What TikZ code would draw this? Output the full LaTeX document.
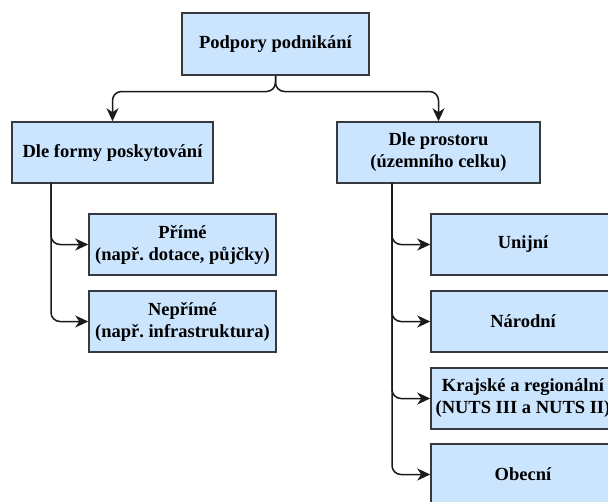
\documentclass[tikz,border=0pt]{standalone}
\usepackage{fontspec}
\setmainfont{Liberation Serif}
\usetikzlibrary{arrows.meta}
\definecolor{boxfill}{HTML}{CCE5FF}
\definecolor{boxline}{HTML}{36393D}
\definecolor{conncol}{HTML}{1A1A1A}
\frenchspacing
\tikzset{
  boxnode/.style={draw=boxline, fill=boxfill, line width=1.5pt, inner sep=2pt,
    align=center, font=\fontsize{18.5}{22}\selectfont\bfseries, text=black},
  conn/.style={draw=conncol, line width=1.5pt, rounded corners=9pt,
    -{Stealth[length=13pt,width=12pt,inset=4pt]}},
}
\begin{document}
\begin{tikzpicture}[x=1pt,y=-1pt]
\useasboundingbox (0,0) rectangle (608,501);
\clip (0,0) rectangle (608,501);
\node[boxnode, minimum width=187pt, minimum height=62pt] (top) at (275.5,44) {Podpory podnikání};
\node[boxnode, minimum width=201pt, minimum height=61pt] (forma) at (112.5,152.5) {Dle formy poskytování};
\node[boxnode, minimum width=203pt, minimum height=61pt] (prostor) at (438.5,152.5) {Dle prostoru\\(územního celku)};
\node[boxnode, minimum width=187pt, minimum height=61pt] (prime) at (182.5,244.5) {Přímé\\(např. dotace, půjčky)};
\node[boxnode, minimum width=187pt, minimum height=61pt] (neprime) at (182.5,321.5) {Nepřímé\\(např. infrastruktura)};
\node[boxnode, minimum width=184pt, minimum height=61pt] (unijni) at (523,244.5) {Unijní};
\node[boxnode, minimum width=184pt, minimum height=61pt] (narodni) at (523,321.5) {Národní};
\node[boxnode, minimum width=184pt, minimum height=61pt] (krajske) at (523,398.5) {Krajské a regionální\\(NUTS III a NUTS II)};
\node[boxnode, minimum width=184pt, minimum height=61pt] (obecni) at (523,474.5) {Obecní};
\coordinate (j) at (275.5,91.5);
\coordinate (lf) at (51,183);
\coordinate (lp) at (392,183);
\draw[conn] (top.south) -- (j) -| (forma.north);
\draw[conn] (top.south) -- (j) -| (prostor.north);
\draw[conn] (lf) |- (prime.west);
\draw[conn] (lf) |- (neprime.west);
\draw[conn] (lp) |- (unijni.west);
\draw[conn] (lp) |- (narodni.west);
\draw[conn] (lp) |- (krajske.west);
\draw[conn] (lp) |- (obecni.west);
\end{tikzpicture}
\end{document}
